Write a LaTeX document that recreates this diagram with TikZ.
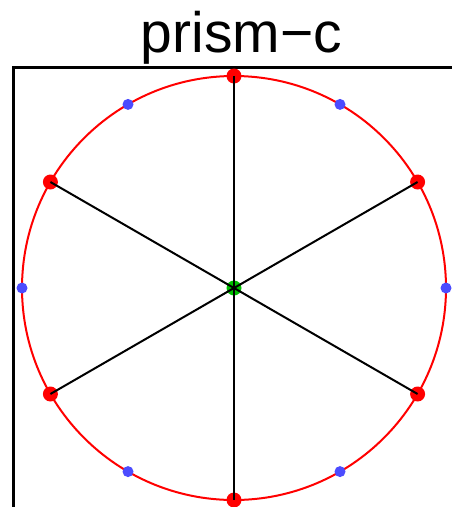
\documentclass[tikz,border=0pt]{standalone}
\usepackage{fontspec}
\setmainfont{Liberation Sans}

\begin{document}
\begin{tikzpicture}[
    x=1pt, y=-1pt,
    every node/.style={text=black},
    reddot/.style={circle, fill=red, inner sep=0pt, minimum size=15pt},
    bluedot/.style={circle, fill=blue!70, inner sep=0pt, minimum size=11pt},
    greendot/.style={circle, fill=green!75!black, inner sep=0pt, minimum size=15pt},
    spoke/.style={line width=2pt, black}
]
    \useasboundingbox (0,0) rectangle (451,507);

    % ==========================
    % TITLE AND FRAME
    % ==========================
    \node[anchor=base, inner sep=0pt, font=\fontsize{57}{60}\selectfont] (title) at (241.5,52) {prism\textminus c};
    \draw[line width=3pt, line cap=rect] (451,67) -- (13,67) -- (13,507);

    % ==========================
    % THE CIRCLE
    % ==========================
    \begin{scope}[shift={(234,288)}]
        \draw[line width=2pt, red] (0,0) circle (212);

        \node[greendot] (C) at (0,0) {};

        % blue points between the spokes
        \foreach \i/\angle in {1/0, 2/60, 3/120, 4/180, 5/240, 6/300}
        {
            \node[bluedot] (B\i) at ({212*cos(\angle)},{-212*sin(\angle)}) {};
        }

        % red points at the ends of the spokes
        \foreach \i/\angle in {1/90, 2/30, 3/-30, 4/-90, 5/210, 6/150}
        {
            \node[reddot] (A\i) at ({212*cos(\angle)},{-212*sin(\angle)}) {};
            \draw[spoke] (C.center) -- (A\i.center);
        }
    \end{scope}

\end{tikzpicture}
\end{document}
